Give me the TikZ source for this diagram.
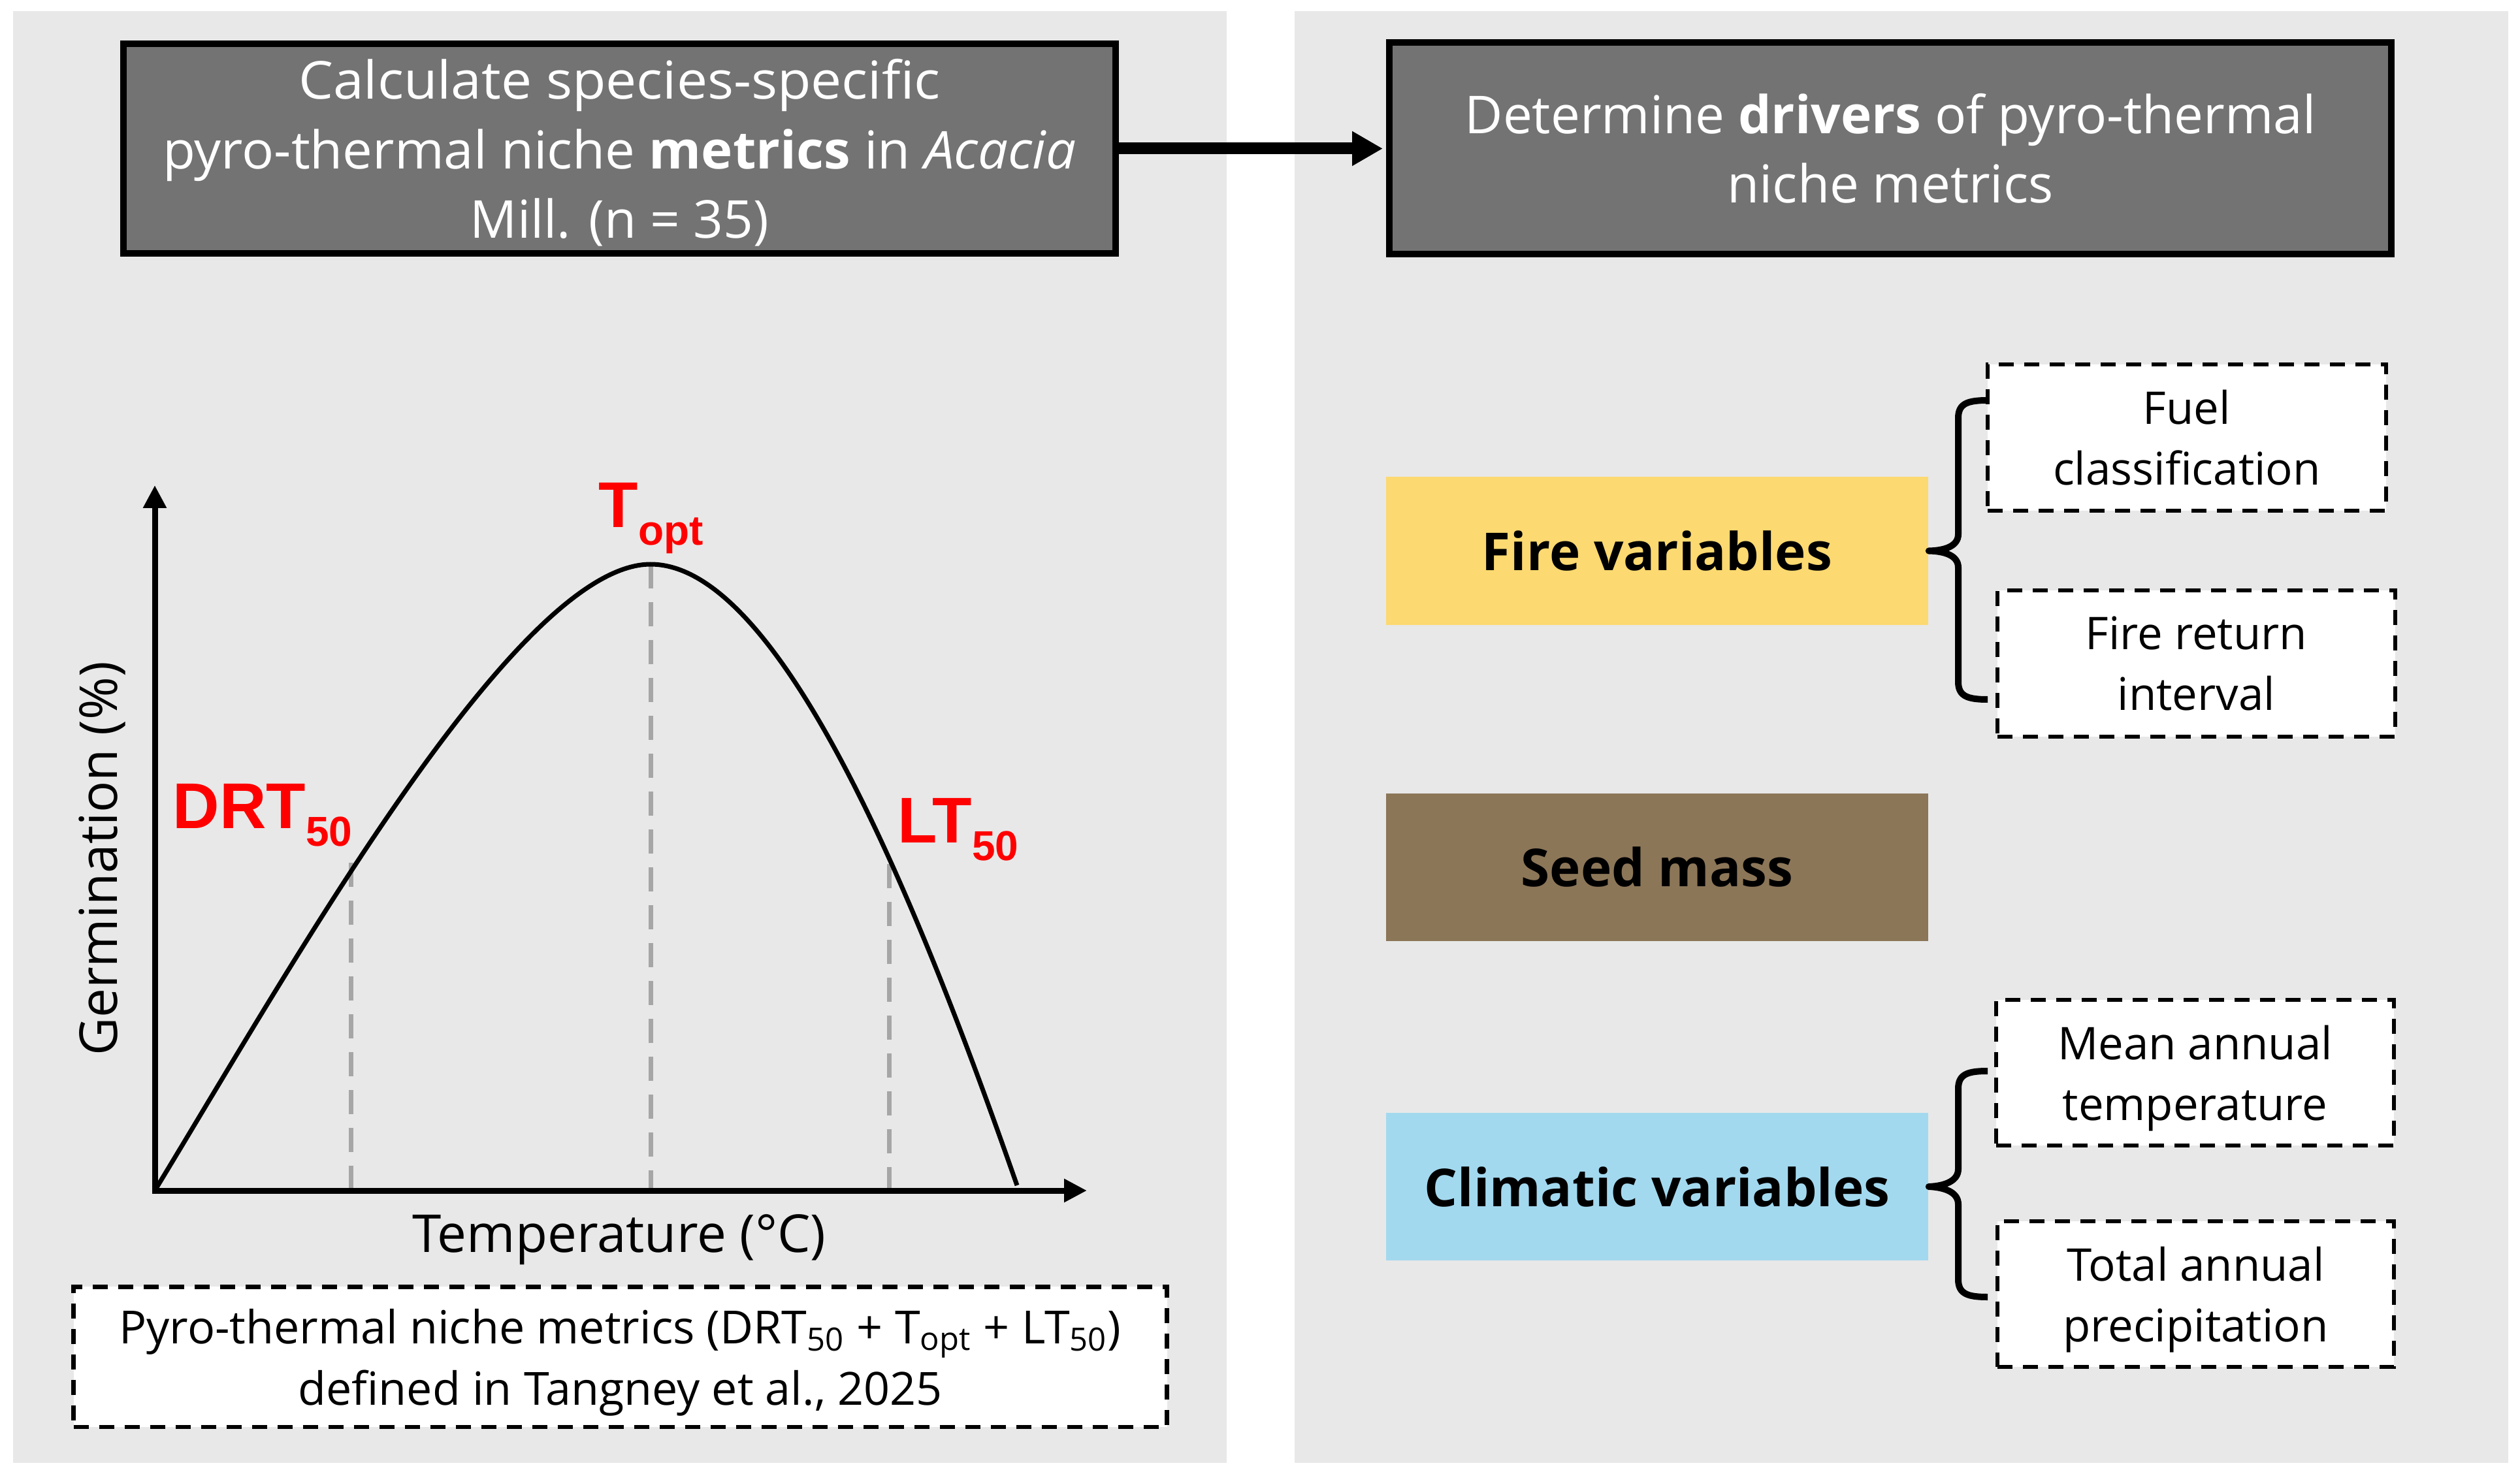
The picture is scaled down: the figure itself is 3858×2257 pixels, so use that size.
\documentclass[tikz,border=0pt]{standalone}
\usepackage{fontspec}
\setmainfont{Open Sans}
\newfontfamily\labfont{Liberation Sans}
\usetikzlibrary{arrows.meta}
\definecolor{cPanel}{HTML}{E8E8E8}
\definecolor{cDark}{HTML}{737373}
\definecolor{cFire}{HTML}{FCD971}
\definecolor{cSeed}{HTML}{8C7658}
\definecolor{cClim}{HTML}{A3D9EF}
\definecolor{cGuide}{HTML}{A6A6A6}
\definecolor{cRed}{HTML}{FF0000}
\begin{document}
\begin{tikzpicture}[x=0.25pt,y=-0.25pt,
  darkstep/.style={draw=black,line width=2.5pt,fill=cDark,text=white,align=center,inner sep=0pt,
    font=\fontsize{20pt}{26.6pt}\selectfont},
  groupbox/.style={fill=#1,text=black,align=center,inner sep=0pt,minimum width=207.5pt,minimum height=56.5pt,
    font=\fontsize{20pt}{24pt}\selectfont\bfseries},
  varbox/.style={draw=black,fill=white,line width=1.6pt,dash pattern=on 5.75pt off 4pt,align=center,inner sep=0pt,
    minimum width=152.5pt,minimum height=56pt,font=\fontsize{17.25pt}{23.3pt}\selectfont},
  bracepath/.style={draw=black,line width=2.5pt,line join=round},
  bigarrow/.style={line width=4.5pt,-{Triangle[length=11.75pt,width=12.5pt]},shorten >=1.25pt},
  axisline/.style={line width=2.25pt,{Triangle[length=8.75pt,width=8.5pt]}-{Triangle[length=8.75pt,width=8.5pt]}},
  curveline/.style={line width=1.75pt},
  guideline/.style={draw=cGuide,line width=1.75pt,dash pattern=on 9.25pt off 5.25pt},
  redlabel/.style={text=cRed,inner sep=0pt,font=\labfont\bfseries\fontsize{24.75pt}{28pt}\selectfont},
  axislabel/.style={inner sep=0pt,font=\fontsize{20pt}{24pt}\selectfont}
]
\newcommand{\subnum}[1]{{\fontsize{16pt}{18pt}\selectfont\raisebox{-6.75pt}{#1}}}
\useasboundingbox (0,0) rectangle (3858,2257);
\fill[white] (0,0) rectangle (3858,2257);
\fill[cPanel] (20,17) rectangle (1878,2240);
\fill[cPanel] (1982,17) rectangle (3840,2240);

% top boxes
\node[darkstep,minimum width=379.75pt,minimum height=80.25pt] (tl) at (948.5,227.5)
  {\fontspec{Open Sans}[FakeStretch=1.05]Calculate species-specific\\\fontspec{Open Sans}[FakeStretch=1.02]pyro-thermal niche \textbf{metrics} in \textit{Acacia}\\\smash{Mill. (n = 35)}};
\node[darkstep,minimum width=383.5pt,minimum height=81pt] (tr) at (2894,227.5)
  {Determine \textbf{drivers} of pyro-thermal\\niche metrics};
\draw[bigarrow] (tl.east) -- (tr.west);

% chart
\coordinate (origin) at (237,1823);
\coordinate (ytip) at (237,743);
\coordinate (xtip) at (1664,1823);
\coordinate (peak) at (996,864);
\coordinate (drt) at (537,1321);
\coordinate (lt) at (1361,1323);
\draw[guideline] (drt) -- (drt |- origin);
\draw[guideline] (peak) -- (peak |- origin);
\draw[guideline] (lt) -- (lt |- origin);
\draw[axisline] (ytip) -- (origin) -- (xtip);
\draw[curveline] (origin) .. controls (440,1490) and (790,864) .. (peak)
  .. controls (1196,864) and (1407,1386) .. (1557,1815);
\node[redlabel,anchor=base west] (drtlab) at (264,1268) {DRT\subnum{50}};
\node[redlabel,anchor=base west] (toptlab) at (916,807) {T\subnum{opt}};
\node[redlabel,anchor=base west] (ltlab) at (1374,1290) {LT\subnum{50}};
\node[axislabel,anchor=base] (xlab) at (948,1917) {Temperature (°C)};
\node[axislabel,anchor=base,rotate=90] (ylab) at (179,1315) {Germination (\%)};

% definition box
\node[varbox,minimum width=418.5pt,minimum height=53.6pt,font=\fontsize{17.5pt}{23.5pt}\selectfont] (defbox) at (949.5,2077.5)
  {Pyro-thermal niche metrics (DRT\textsubscript{50} + T\textsubscript{opt} + LT\textsubscript{50})\\\smash{defined in Tangney et al., 2025}};

% right side groups
\node[groupbox=cFire] (fire) at (2537,843.5) {Fire variables};
\node[groupbox=cSeed] (seed) at (2537,1327.5) {Seed mass};
\node[groupbox=cClim] (clim) at (2537,1817) {Climatic variables};

\node[varbox] (fuel) at (3348,670) {Fuel\\classification};
\node[varbox,minimum width=152.25pt] (fri) at (3362.5,1016) {Fire return\\interval};
\node[varbox,minimum width=152.25pt,minimum height=55.75pt] (mat) at (3360.5,1642.5) {Mean annual\\\smash{temperature}};
\node[varbox,minimum width=151.75pt,minimum height=55.75pt] (tap) at (3361.5,1981.5) {Total annual\\\smash{precipitation}};

% braces
\draw[bracepath] (3043,613) .. controls (3012,613) and (2998,618) .. (2998,640) -- (2998,818)
  .. controls (2998,836) and (2978,843) .. (fire.east)
  .. controls (2978,844) and (2998,851) .. (2998,869) -- (2998,1044)
  .. controls (2998,1066) and (3012,1071) .. (3043,1071);
\draw[bracepath] (3043,1640) .. controls (3012,1640) and (2998,1645) .. (2998,1667) -- (2998,1790)
  .. controls (2998,1808) and (2978,1816) .. (clim.east)
  .. controls (2978,1818) and (2998,1826) .. (2998,1844) -- (2998,1959)
  .. controls (2998,1981) and (3012,1986) .. (3043,1986);
\end{tikzpicture}
\end{document}
